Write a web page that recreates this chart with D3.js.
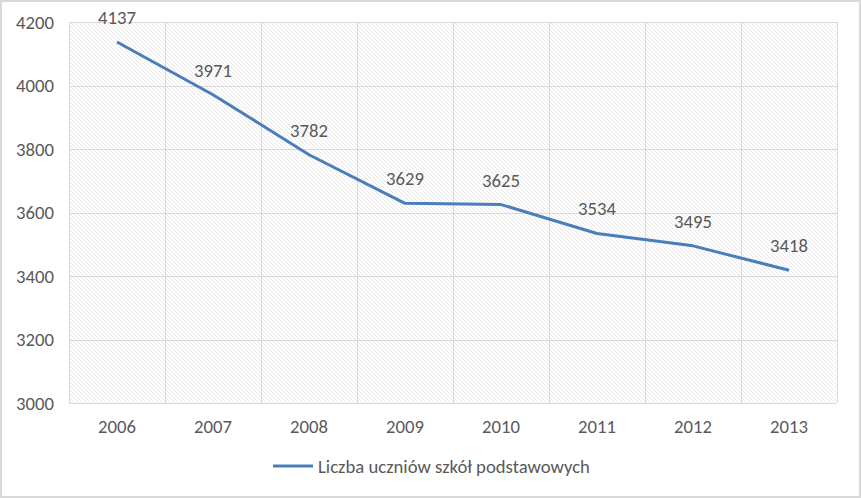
<!DOCTYPE html>
<html>
<head>
<meta charset="utf-8">
<script src="https://cdn.jsdelivr.net/npm/d3@7"></script>
<style>
  html, body { margin: 0; padding: 0; background: #fff; }
  svg { display: block; }
  text { font-family: Carlito, "Open Sans", "Liberation Sans", sans-serif; fill: #595959; }
</style>
</head>
<body>
<div id="chart"></div>
<script>
var years = ["2006", "2007", "2008", "2009", "2010", "2011", "2012", "2013"];
var pupils = [4137, 3971, 3782, 3629, 3625, 3534, 3495, 3418];
var yTicks = [3000, 3200, 3400, 3600, 3800, 4000, 4200];
var seriesName = "Liczba uczniów szkół podstawowych";

var _width = 861, _height = 498;
var _fontSize = 18.7;
var margin = {top: 22, right: 24, bottom: 95, left: 69};
var lineColor = "#4a7ebb";

var svg = d3.select("#chart").append("svg")
    .attr("width", _width)
    .attr("height", _height);

// outer frame
svg.append("rect")
    .attr("x", 1).attr("y", 1)
    .attr("width", _width - 2).attr("height", _height - 2)
    .attr("fill", "#fff")
    .attr("stroke", "#d9d9d9")
    .attr("stroke-width", 2);

var defs = svg.append("defs");
var pat = defs.append("pattern")
    .attr("id", "hatch")
    .attr("patternUnits", "userSpaceOnUse")
    .attr("width", 4).attr("height", 4);
pat.append("path")
    .attr("d", "M-1,-1 L5,5 M-1,3 L1,5 M3,-1 L5,1")
    .attr("stroke", "#dcdcdc")
    .attr("stroke-width", 0.7);

var x = d3.scaleBand()
    .domain(years)
    .range([margin.left, _width - margin.right]);

var y = d3.scaleLinear()
    .domain([3000, 4200])
    .range([_height - margin.bottom, margin.top]);

// plot background
svg.append("rect")
    .attr("x", x.range()[0]).attr("y", y(4200))
    .attr("width", x.range()[1] - x.range()[0])
    .attr("height", y(3000) - y(4200))
    .attr("fill", "url(#hatch)");

// horizontal grid
svg.append("g").selectAll("line")
    .data(yTicks)
    .enter().append("line")
    .attr("x1", x.range()[0]).attr("x2", x.range()[1])
    .attr("y1", function(d) { return Math.round(y(d)) + 0.5; })
    .attr("y2", function(d) { return Math.round(y(d)) + 0.5; })
    .attr("stroke", "#d9d9d9");

// vertical grid at band edges
var edges = years.map(function(d) { return x(d); }).concat([x.range()[1]]);
svg.append("g").selectAll("line")
    .data(edges)
    .enter().append("line")
    .attr("x1", function(d) { return Math.round(d) + 0.5; })
    .attr("x2", function(d) { return Math.round(d) + 0.5; })
    .attr("y1", y(4200)).attr("y2", y(3000))
    .attr("stroke", "#d9d9d9");

// y axis labels
svg.append("g").selectAll("text")
    .data(yTicks)
    .enter().append("text")
    .attr("x", margin.left - 15)
    .attr("y", function(d) { return y(d) + 6.5; })
    .attr("text-anchor", "end")
    .style("font-size", _fontSize + "px")
    .text(function(d) { return d; });

// x axis labels
svg.append("g").selectAll("text")
    .data(years)
    .enter().append("text")
    .attr("x", function(d) { return x(d) + x.bandwidth() / 2; })
    .attr("y", y(3000) + 30)
    .attr("text-anchor", "middle")
    .style("font-size", _fontSize + "px")
    .text(function(d) { return d; });

// line
var line = d3.line()
    .x(function(d, i) { return x(years[i]) + x.bandwidth() / 2; })
    .y(function(d) { return y(d); });

svg.append("path")
    .datum(pupils)
    .attr("d", line)
    .attr("fill", "none")
    .attr("stroke", lineColor)
    .attr("stroke-width", 3)
    .attr("stroke-linejoin", "round");

// value labels
svg.append("g").selectAll("text")
    .data(pupils)
    .enter().append("text")
    .attr("x", function(d, i) { return x(years[i]) + x.bandwidth() / 2; })
    .attr("y", function(d) { return y(d) - 18; })
    .attr("text-anchor", "middle")
    .style("font-size", _fontSize + "px")
    .text(function(d) { return d; });

// legend
var lg = svg.append("g").attr("transform", "translate(273,466)");
lg.append("line")
    .attr("x1", 0).attr("x2", 40)
    .attr("stroke", lineColor)
    .attr("stroke-width", 3);
lg.append("text")
    .attr("x", 45).attr("y", 6.5)
    .style("font-size", _fontSize + "px")
    .text(seriesName);
</script>
</body>
</html>
